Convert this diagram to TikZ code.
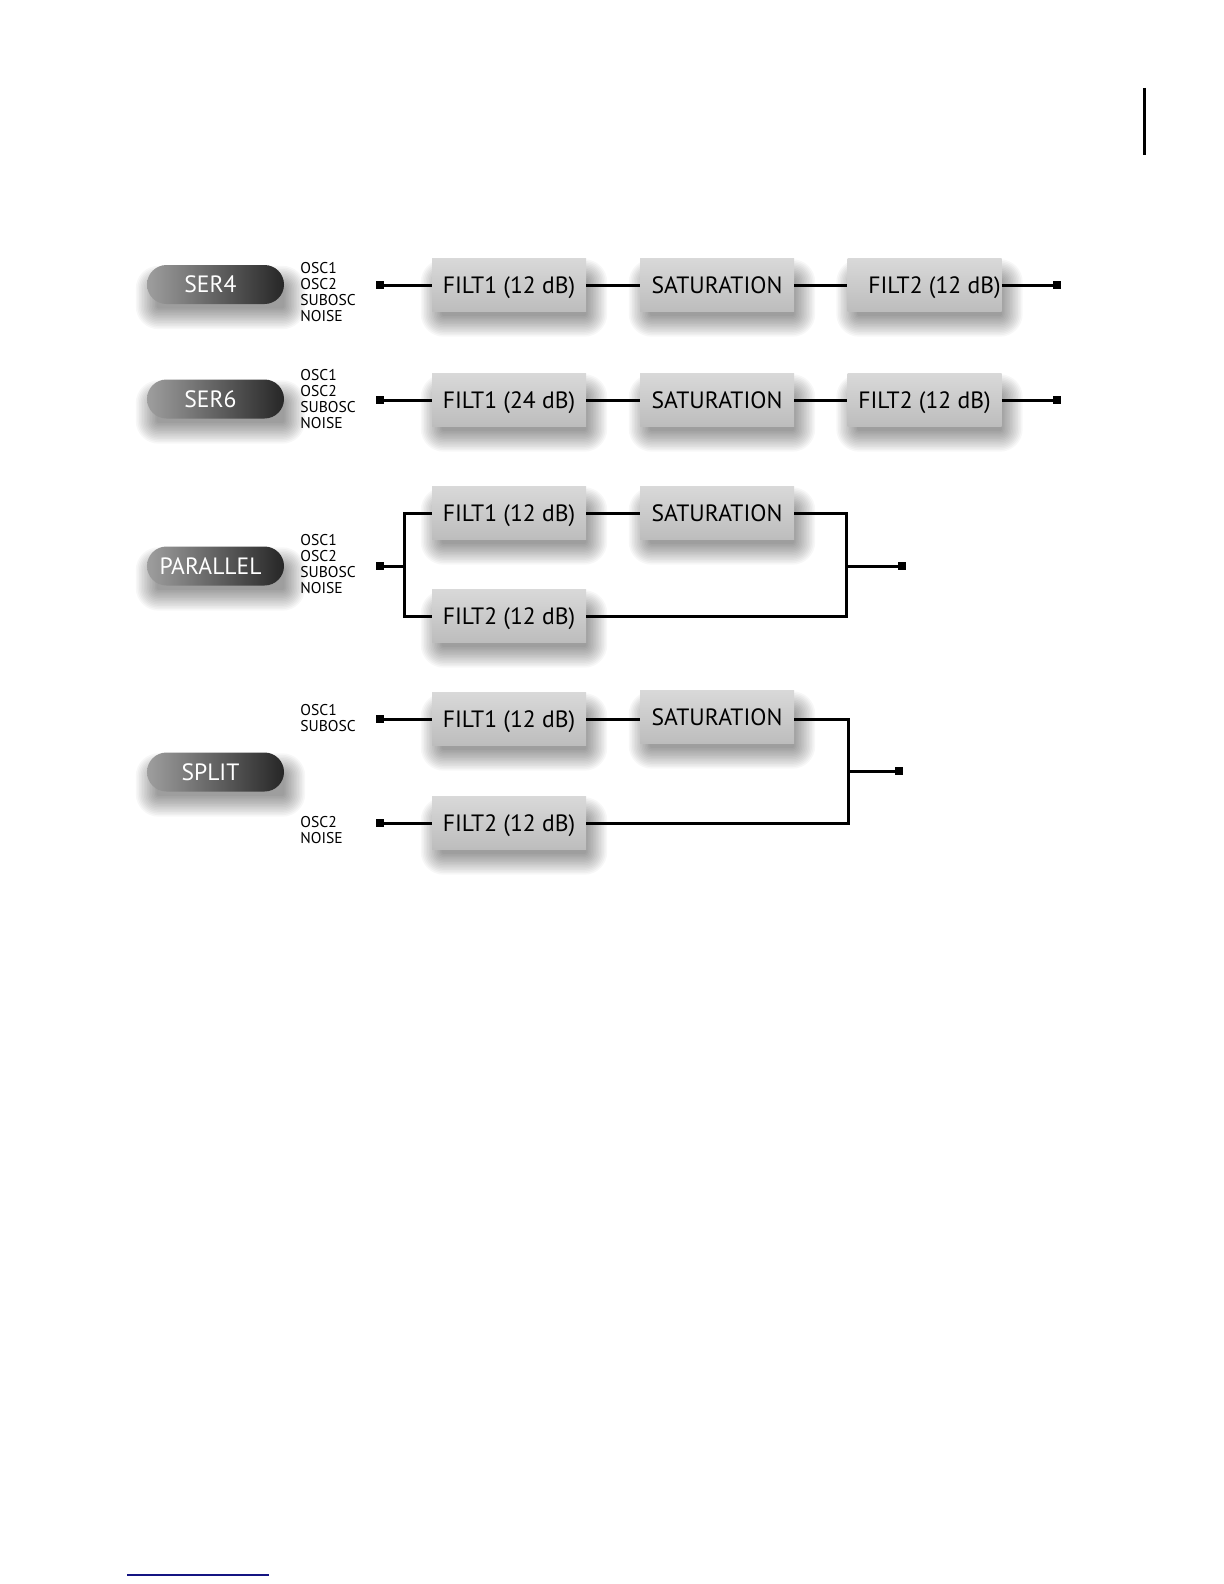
\documentclass[tikz,border=0pt]{standalone}
\usepackage{fontspec}
\setmainfont{PT Sans}
\definecolor{navyline}{RGB}{20,20,130}
\pgfdeclarelayer{paper}
\pgfdeclarelayer{bg}
\pgfsetlayers{paper,bg,main}
\begin{document}
\begin{tikzpicture}[x=0.5pt,y=-0.5pt,
  blk/.style={rectangle, minimum width=77pt, minimum height=26.5pt, inner sep=0pt,
    text height=8.4pt, text depth=0pt,
    top color=black!15, bottom color=black!26, font=\fontsize{11.8}{14}\selectfont},
  pill/.style={rectangle, rounded corners=9.75pt, minimum width=68.5pt, minimum height=19.5pt, inner sep=0pt,
    text height=8.4pt, text depth=0pt,
    left color=black!38, right color=black!85, text=white, font=\fontsize{11.8}{14}\selectfont},
  term/.style={rectangle, fill=black, minimum size=4pt, inner sep=0pt},
  wire/.style={line width=1.5pt},
  src/.style={align=left, anchor=west, inner sep=0pt, font=\fontsize{7.8}{7.9}\selectfont}
]
\begin{pgfonlayer}{paper}
\useasboundingbox[fill=white] (0,0) rectangle (1224,1584);
\end{pgfonlayer}

% ---------- SER4 ----------
\node[pill] (p1) at (215.5,284.5) {SER4\hspace*{5pt}};
\node[src] (l1) at (300,292) {OSC1\\OSC2\\SUBOSC\\NOISE};
\node[term] (t1) at (380,285) {};
\node[blk] (f1a) at (509,285) {FILT1 (12 dB)};
\node[blk] (s1) at (717,285) {SATURATION};
\node[blk] (f1b) at (924.5,285) {\hspace*{10pt}FILT2 (12 dB)};
\node[term] (o1) at (1057,285) {};
\draw[wire] (t1) -- (f1a);
\draw[wire] (f1a) -- (s1);
\draw[wire] (s1) -- (f1b);
\draw[wire] (f1b) -- (o1);

% ---------- SER6 ----------
\node[pill] (p2) at (215.5,399) {SER6\hspace*{5pt}};
\node[src] (l2) at (300,399) {OSC1\\OSC2\\SUBOSC\\NOISE};
\node[term] (t2) at (380,400) {};
\node[blk] (f2a) at (509,400) {FILT1 (24 dB)};
\node[blk] (s2) at (717,400) {SATURATION};
\node[blk] (f2b) at (924.5,400) {FILT2 (12 dB)};
\node[term] (o2) at (1057,400) {};
\draw[wire] (t2) -- (f2a);
\draw[wire] (f2a) -- (s2);
\draw[wire] (s2) -- (f2b);
\draw[wire] (f2b) -- (o2);

% ---------- PARALLEL ----------
\node[pill] (p3) at (215.5,566) {PARALLEL\hspace*{5pt}};
\node[src] (l3) at (300,564) {OSC1\\OSC2\\SUBOSC\\NOISE};
\node[term] (t3) at (380,566) {};
\coordinate (j3l) at (404,566);
\coordinate (j3r) at (846,566);
\node[blk] (f3a) at (509,513) {FILT1 (12 dB)};
\node[blk] (s3) at (717,513) {SATURATION};
\node[blk] (f3b) at (509,616) {FILT2 (12 dB)};
\node[term] (o3) at (902,566) {};
\draw[wire] (t3) -- (j3l);
\draw[wire] (f3a.west) -| (j3l) |- (f3b.west);
\draw[wire] (f3a) -- (s3);
\draw[wire] (s3.east) -| (j3r) |- (f3b.east);
\draw[wire] (j3r) -- (o3);

% ---------- SPLIT ----------
\node[pill] (p4) at (215.5,772) {SPLIT\hspace*{5pt}};
\node[src] (l4a) at (300,718) {OSC1\\SUBOSC};
\node[src] (l4b) at (300,830) {OSC2\\NOISE};
\node[term] (t4a) at (380,719) {};
\node[term] (t4b) at (380,823) {};
\coordinate (j4r) at (848,771);
\node[blk] (f4a) at (509,719) {FILT1 (12 dB)};
\node[blk] (s4) at (717,717) {SATURATION};
\node[blk] (f4b) at (509,823) {FILT2 (12 dB)};
\node[term] (o4) at (899,771) {};
\draw[wire] (t4a) -- (f4a);
\draw[wire] (f4a) -- (f4a -| s4.west);
\draw[wire] (t4b) -- (f4b);
\draw[wire] (s4.east |- f4a) -| (j4r) |- (f4b.east);
\draw[wire] (j4r) -- (o4);

% ---------- soft shadows ----------
\begin{pgfonlayer}{bg}
\foreach \n in {f1a,s1,f1b,f2a,s2,f2b,f3a,s3,f3b,f4a,s4,f4b,p1,p2,p3,p4}{
  \foreach \i in {0,...,13}{
    \fill[black, opacity=0.03, rounded corners=\i*0.8pt+1pt]
      ([xshift=5pt-\i*0.8pt, yshift=-2pt-\i*0.8pt]\n.south west)
      rectangle ([xshift=0pt+\i*0.8pt, yshift=-11pt+\i*0.8pt]\n.north east);
  }
}
\end{pgfonlayer}

% ---------- page marks ----------
\draw[line width=1.5pt] (1144,88) -- (1144,155);
\draw[navyline, line width=0.7pt] (127,1575) -- (269,1575);
\end{tikzpicture}
\end{document}
